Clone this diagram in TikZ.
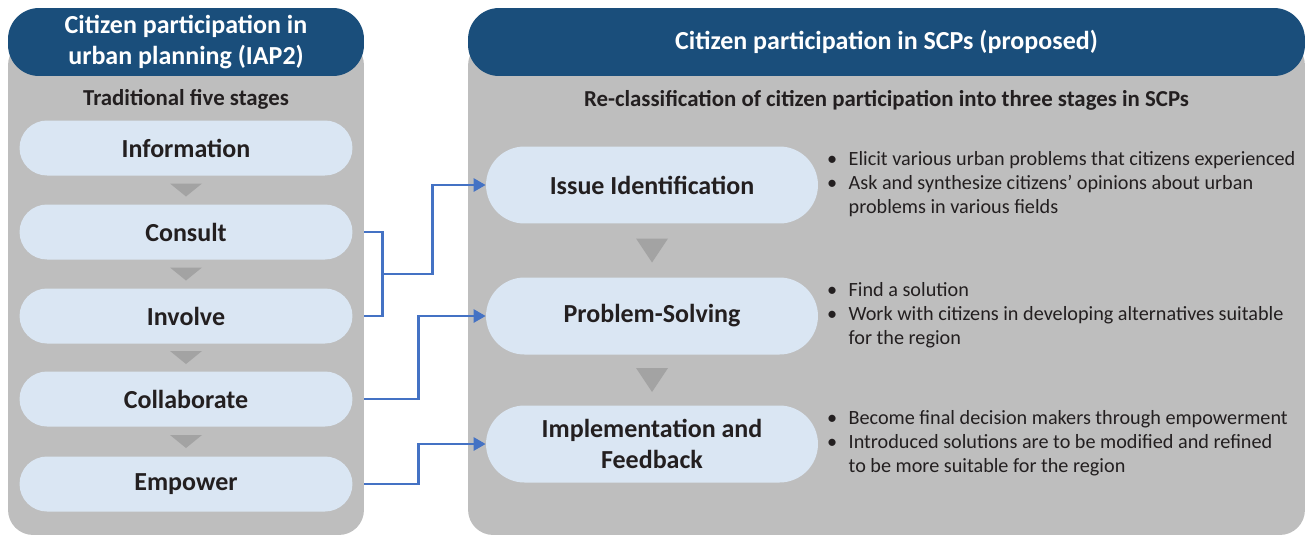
\documentclass[tikz,border=0pt]{standalone}
\usepackage{fontspec}
\setmainfont{Carlito}
\usetikzlibrary{calc,arrows.meta,positioning}
\definecolor{hdrblue}{HTML}{1A4E7B}
\definecolor{panelgray}{HTML}{BEBEBE}
\definecolor{stageblue}{HTML}{DAE6F3}
\definecolor{trigray}{HTML}{A3A3A3}
\definecolor{textdark}{HTML}{231F20}
\definecolor{linkblue}{HTML}{4472C4}
\tikzset{
  panel/.style={fill=panelgray,rounded corners=0.5cm,inner sep=0pt},
  header/.style={fill=hdrblue,rounded corners=0.62cm,text=white,align=center,inner sep=0pt,
    font=\fontsize{14.8}{18}\selectfont\bfseries},
  stage/.style={fill=stageblue,rounded corners=0.55cm,minimum width=6.66cm,minimum height=1.1cm,
    inner sep=0pt,align=center,text=textdark,font=\fontsize{14.8}{17.5}\selectfont\bfseries},
  bigstage/.style={stage,minimum width=6.64cm,minimum height=1.54cm,rounded corners=0.77cm},
  sub/.style={text=textdark,font=\fontsize{13}{15}\selectfont\bfseries},
  note/.style={text=textdark,anchor=west,inner sep=0pt,font=\fontsize{11.5}{13.6}\selectfont},
  link/.style={draw=linkblue,line width=1.4pt},
  arr/.style={link,-{Triangle[length=0.24cm,width=0.26cm]}},
  tri/.style={fill=trigray},
}
\newcommand{\bul}{\textbullet}
\begin{document}
\begin{tikzpicture}[x=0.02cm,y=-0.02cm]
\useasboundingbox (0,0) rectangle (1307,538);
% panels
\node[panel,minimum width=7.12cm,minimum height=9.9cm] (panelL) at (186,287.5) {};
\node[panel,minimum width=16.74cm,minimum height=9.9cm] (panelR) at (886.5,287.5) {};
\node[header,minimum width=7.12cm,minimum height=1.36cm] (hdrL) at (186,42) {Citizen participation in\\urban planning (IAP2)};
\node[header,minimum width=16.74cm,minimum height=1.36cm] (hdrR) at (886.5,42) {Citizen participation in SCPs (proposed)};
\node[sub] (subL) at (186,99) {Traditional five stages};
\node[sub] (subR) at (886.5,100) {Re-classification of citizen participation into three stages in SCPs};
% five stages
\node[stage] (info) at (186,148) {Information};
\node[stage] (consult) at (186,232) {Consult};
\node[stage] (involve) at (186,316) {Involve};
\node[stage] (collab) at (186,399) {Collaborate};
\node[stage] (empower) at (186,484) {Empower};
% three stages
\node[bigstage] (issue) at (652,185) {Issue Identification};
\node[bigstage] (solve) at (652,316) {Problem-Solving};
\node[bigstage] (implem) at (652,444) {Implementation and\\Feedback};
% down triangles
\foreach \a/\b in {info/consult,consult/involve,involve/collab,collab/empower}{
  \coordinate (m) at ($(\a.south)!0.5!(\b.north)$);
  \fill[tri] ($(m)+(-16,-6.5)$) -- ($(m)+(16,-6.5)$) -- ($(m)+(0,6.5)$) -- cycle;
}
\foreach \a/\b in {issue/solve,solve/implem}{
  \coordinate (m) at ($(\a.south)!0.5!(\b.north)$);
  \fill[tri] ($(m)+(-16,-12)$) -- ($(m)+(16,-12)$) -- ($(m)+(0,12)$) -- cycle;
}
% notes
\node[note,right=0.17cm of issue] (noteA) {\begin{tabular}{@{}l@{\hspace{6.5pt}}l@{}}
\bul & Elicit various urban problems that citizens experienced\\
\bul & Ask and synthesize citizens’ opinions about urban\\
 & problems in various fields\end{tabular}};
\node[note,right=0.17cm of solve] (noteB) {\begin{tabular}{@{}l@{\hspace{6.5pt}}l@{}}
\bul & Find a solution\\
\bul & Work with citizens in developing alternatives suitable\\
 & for the region\end{tabular}};
\node[note,right=0.17cm of implem] (noteC) {\begin{tabular}{@{}l@{\hspace{6.5pt}}l@{}}
\bul & Become final decision makers through empowerment\\
\bul & Introduced solutions are to be modified and refined\\
 & to be more suitable for the region\end{tabular}};
% connectors
\draw[link] (consult.east -| panelL.east) -- ++(18,0) |- (involve.east -| panelL.east);
\coordinate (j) at ($($(consult.east -| panelL.east)!0.5!(involve.east -| panelL.east)$)+(18,0)$);
\draw[arr] (j) -- ++(50,0) |- (issue.west);
\draw[arr] (collab.east -| panelL.east) -- ++(54,0) |- (solve.west);
\draw[arr] (empower.east -| panelL.east) -- ++(54,0) |- (implem.west);
\end{tikzpicture}
\end{document}
